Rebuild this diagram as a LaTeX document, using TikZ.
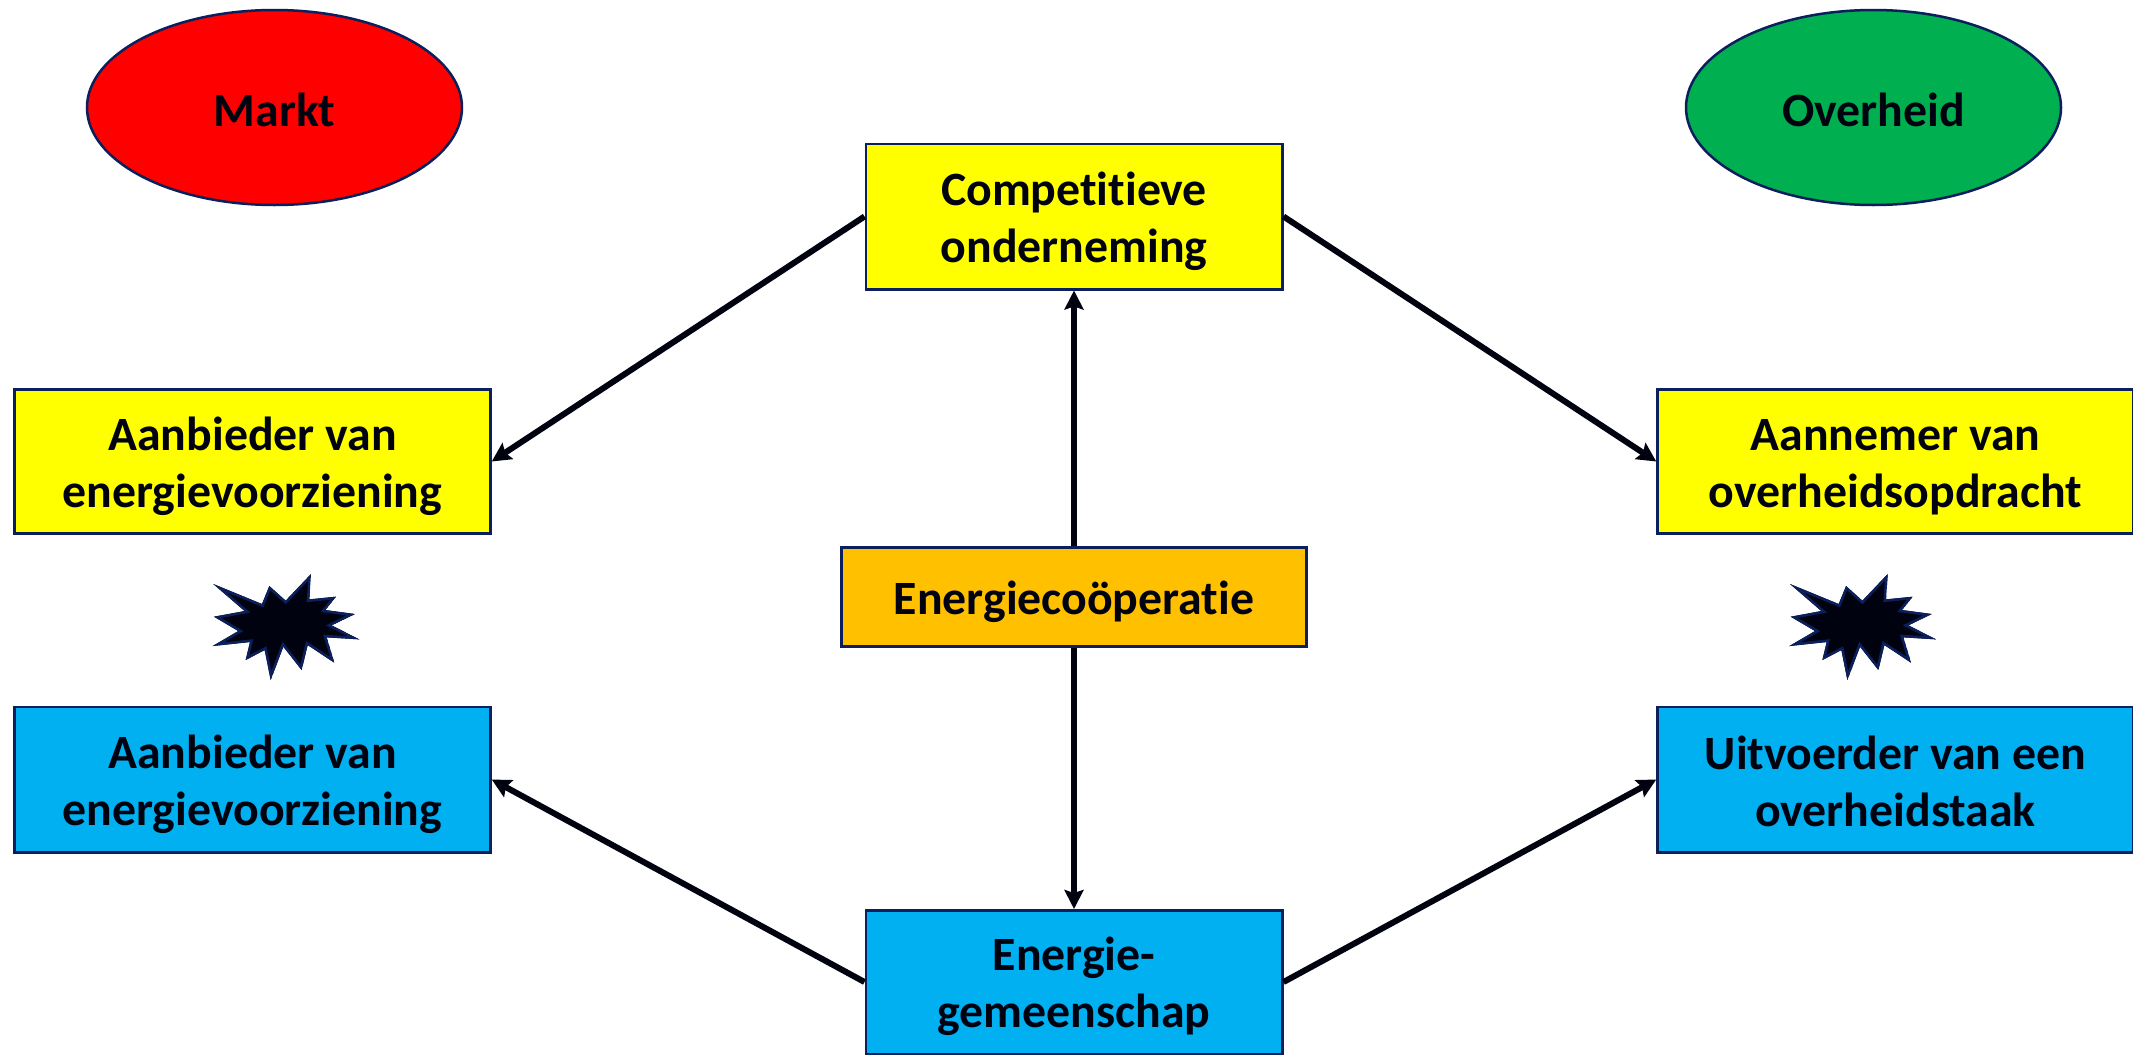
\documentclass[tikz,border=0pt]{standalone}
\usepackage{fontspec}
\setmainfont{Carlito}[Ligatures=NoCommon]
\usetikzlibrary{arrows.meta,shapes.geometric}
\definecolor{navyline}{HTML}{0A1F5C}
\definecolor{inkdark}{HTML}{00030F}
\definecolor{boxyellow}{RGB}{255,255,0}
\definecolor{boxblue}{RGB}{0,176,240}
\definecolor{boxorange}{RGB}{255,192,0}
\definecolor{ovalgreen}{RGB}{0,176,80}
\definecolor{ovalred}{RGB}{255,0,0}
\newcommand{\tp}{\rule{0pt}{43pt}}
\newcommand{\bt}{\rule[-6pt]{0pt}{6pt}}
\tikzset{
  x=1pt,y=-1pt,
  lbl/.style={font=\fontsize{47.8}{57}\selectfont\bfseries,text=inkdark,align=center,inner sep=0pt},
  boxbase/.style={lbl,draw=navyline,line width=2.5pt,rectangle,anchor=center},
  yellowbox/.style={boxbase,fill=boxyellow},
  bluebox/.style={boxbase,fill=boxblue},
  orangebox/.style={boxbase,fill=boxorange},
  oval/.style={lbl,ellipse,draw=navyline,line width=2.5pt,minimum width=375pt,minimum height=195pt},
  conn/.style={line width=6pt,draw=inkdark,-{Stealth[length=19pt,width=19pt,inset=3pt]}},
  burstedge/.style={draw=navyline,line width=5pt},
}
\newcommand{\burstpath}{(-218,-128)--(-72,-68)--(-50,-122)--(-1,-78)--(75,-158)--(70,-82)--(150,-90)--(118,-50)--(207,-38)--(137,-4)--(220,38)--(122,32)--(145,108)--(65,55)--(47,130)--(-8,60)--(-46,160)--(-64,70)--(-121,100)--(-108,46)--(-220,58)--(-143,13)--(-216,-30)--(-124,-47)--cycle}
\newcommand{\burstat}[1]{%
  \begin{scope}[shift={#1},x=0.3333pt,y=-0.3333pt]
    \clip \burstpath;
    \fill[inkdark] \burstpath;
    \draw[burstedge] \burstpath;
  \end{scope}}
\begin{document}
\begin{tikzpicture}
\useasboundingbox (0,0) rectangle (2133,1055);
\fill[white] (0,0) rectangle (2133,1055);
\node[oval,fill=ovalred] (markt) at (274.5,107.5) {\tp Markt\bt};
\node[oval,fill=ovalgreen] (overheid) at (1873.5,107.5) {\tp Overheid\bt};
\node[yellowbox,minimum width=416.5pt,minimum height=145.5pt] (comp) at (1074,216.5) {\tp Competitieve\\onderneming\bt};
\node[yellowbox,minimum width=476pt,minimum height=144pt] (ay) at (252.5,461.5) {\tp Aanbieder van\\energievoorziening\bt};
\node[yellowbox,minimum width=476pt,minimum height=144pt] (ry) at (1895.5,461.5) {\tp Aannemer van\\overheidsopdracht\bt};
\node[orangebox,minimum width=465pt,minimum height=99pt] (coop) at (1074,597) {\tp Energiecoöperatie\bt};
\node[bluebox,minimum width=476pt,minimum height=145.5pt] (ab) at (252.5,779.5) {\tp Aanbieder van\\energievoorziening\bt};
\node[bluebox,minimum width=476pt,minimum height=145.5pt] (rb) at (1895.5,779.5) {\tp Uitvoerder van een\\overheidstaak\bt};
\node[bluebox,minimum width=416.5pt,minimum height=143.5pt] (gem) at (1074,982) {\tp Energie-\\gemeenschap\bt};
\draw[conn] (comp.west) -- (ay.east);
\draw[conn] (comp.east) -- (ry.west);
\draw[conn] (coop.north) -- (comp.south);
\draw[conn] (coop.south) -- (gem.north);
\draw[conn] (gem.west) -- (ab.east);
\draw[conn] (gem.east) -- (rb.west);
\burstat{(286,626.7)}
\burstat{(1862.7,626.7)}
\end{tikzpicture}
\end{document}
